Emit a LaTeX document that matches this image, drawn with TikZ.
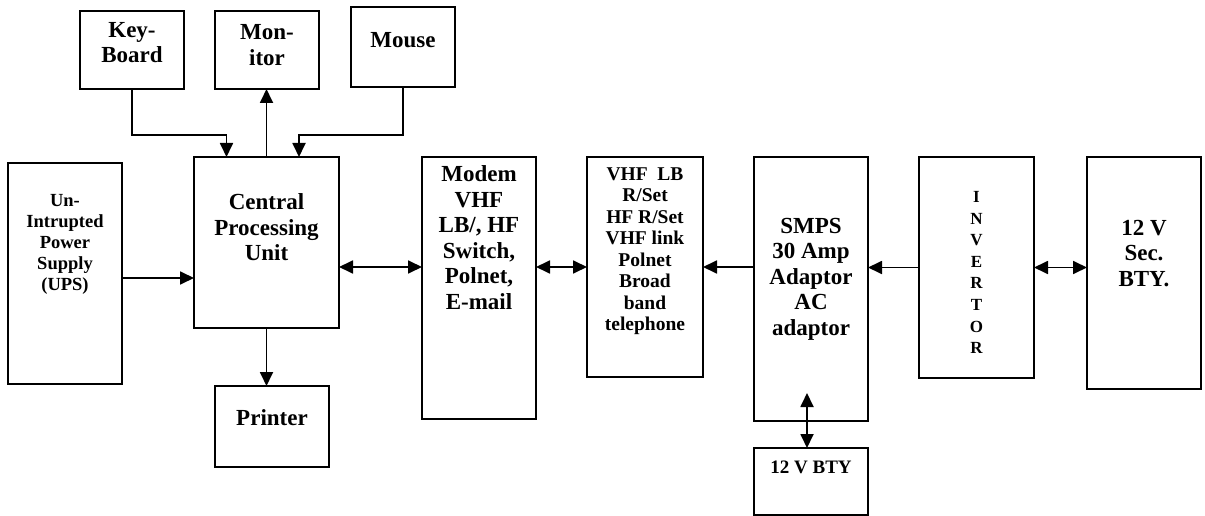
\documentclass[tikz,border=0pt]{standalone}
\usepackage{fontspec}
\setmainfont{Liberation Serif}
\usetikzlibrary{arrows.meta}
\tikzset{
  box/.style={draw, line width=1.8pt, inner sep=0pt, outer sep=0pt, anchor=north west, fill=white},
  txt/.style={align=center, inner sep=0pt, font=\bfseries\fontsize{23}{25.5}\selectfont},
  txtvhf/.style={txt, font=\bfseries\fontsize{19.5}{21.5}\selectfont},
  txtups/.style={txt, font=\bfseries\fontsize{18.5}{21}\selectfont},
  txtinv/.style={txt, font=\bfseries\fontsize{17}{21.6}\selectfont},
  txtbty/.style={txt, font=\bfseries\fontsize{19}{22}\selectfont},
  conn/.style={line width=1.8pt},
  tip/.tip={Triangle[length=14pt,width=13pt]},
  arr/.style={conn, -tip},
  darr/.style={conn, tip-tip}
}
\newcommand\mybox[5]{\node[box, minimum width=#4pt, minimum height=#5pt] (#1) at (#2,#3) {};}
\begin{document}
\begin{tikzpicture}[x=1pt,y=-1pt]
\useasboundingbox (0,0) rectangle (1205,516);
% boxes
\mybox{kb}{80}{11}{104}{78}
\mybox{mon}{215}{11}{104}{78}
\mybox{mouse}{351}{7}{104}{80}
\mybox{ups}{8}{163}{114}{221}
\mybox{cpu}{194}{157}{145}{171}
\mybox{prn}{215}{386}{114}{81}
\mybox{modem}{422}{157}{114}{262}
\mybox{vhf}{587}{157}{116}{220}
\mybox{smps}{754}{157}{114}{264}
\mybox{inv}{919}{157}{115}{221}
\mybox{sec}{1087}{157}{114}{232}
\mybox{bty}{754}{448}{114}{67}
% texts
\node[txt] (kb-t) at (132,42.5) {Key-\\Board};
\node[txt] (mon-t) at (267,45) {Mon-\\itor};
\node[txt] (mouse-t) at (403,40) {Mouse};
\node[txtups] (ups-t) at (65,244) {Un-\\Intrupted\\Power\\Supply\\(UPS)};
\node[txt] (cpu-t) at (266.5,227.5) {Central\\Processing\\Unit};
\node[txt] (prn-t) at (272,418) {Printer};
\node[txt] (modem-t) at (479,237.5) {Modem\\VHF\\LB/, HF\\Switch,\\Polnet,\\E-mail};
\node[txtvhf] (vhf-t) at (645,251) {VHF\ \ LB\\R/Set\\HF R/Set\\VHF link\\Polnet\\Broad\\band\\telephone};
\node[txt] (smps-t) at (811,279) {SMPS\\30 Amp\\Adaptor\\AC\\adaptor};
\node[txtinv] (inv-t) at (976.5,272.5) {I\\N\\V\\E\\R\\T\\O\\R};
\node[txt] (sec-t) at (1144,253.5) {12 V\\Sec.\\BTY.};
\node[txtbty] (bty-t) at (811,467) {12 V BTY};
% connectors
\draw[arr] (kb.south) -- ++(0,46) -| ([xshift=-40pt]cpu.north);
\draw[arr] (mouse.south) -- ++(0,48) -| ([xshift=32.5pt]cpu.north);
\draw[arr] (cpu.north) -- (mon.south -| cpu.north);
\draw[arr] (cpu.south) -- (prn.north -| cpu.south);
\draw[arr] ([yshift=-4.5pt]ups.east) -- ([yshift=-4.5pt]ups.east -| cpu.west);
\draw[darr] (cpu.east |- vhf.west) -- (modem.west |- vhf.west);
\draw[darr] (modem.east |- vhf.west) -- (vhf.west);
\draw[arr] (smps.west |- vhf.east) -- (vhf.east);
\draw[arr] (inv.west) -- (smps.east |- inv.west);
\draw[darr] (inv.east) -- (sec.west |- inv.east);
\draw[darr] ([xshift=-4pt]bty.north) -- ++(0,-55);
\end{tikzpicture}
\end{document}
